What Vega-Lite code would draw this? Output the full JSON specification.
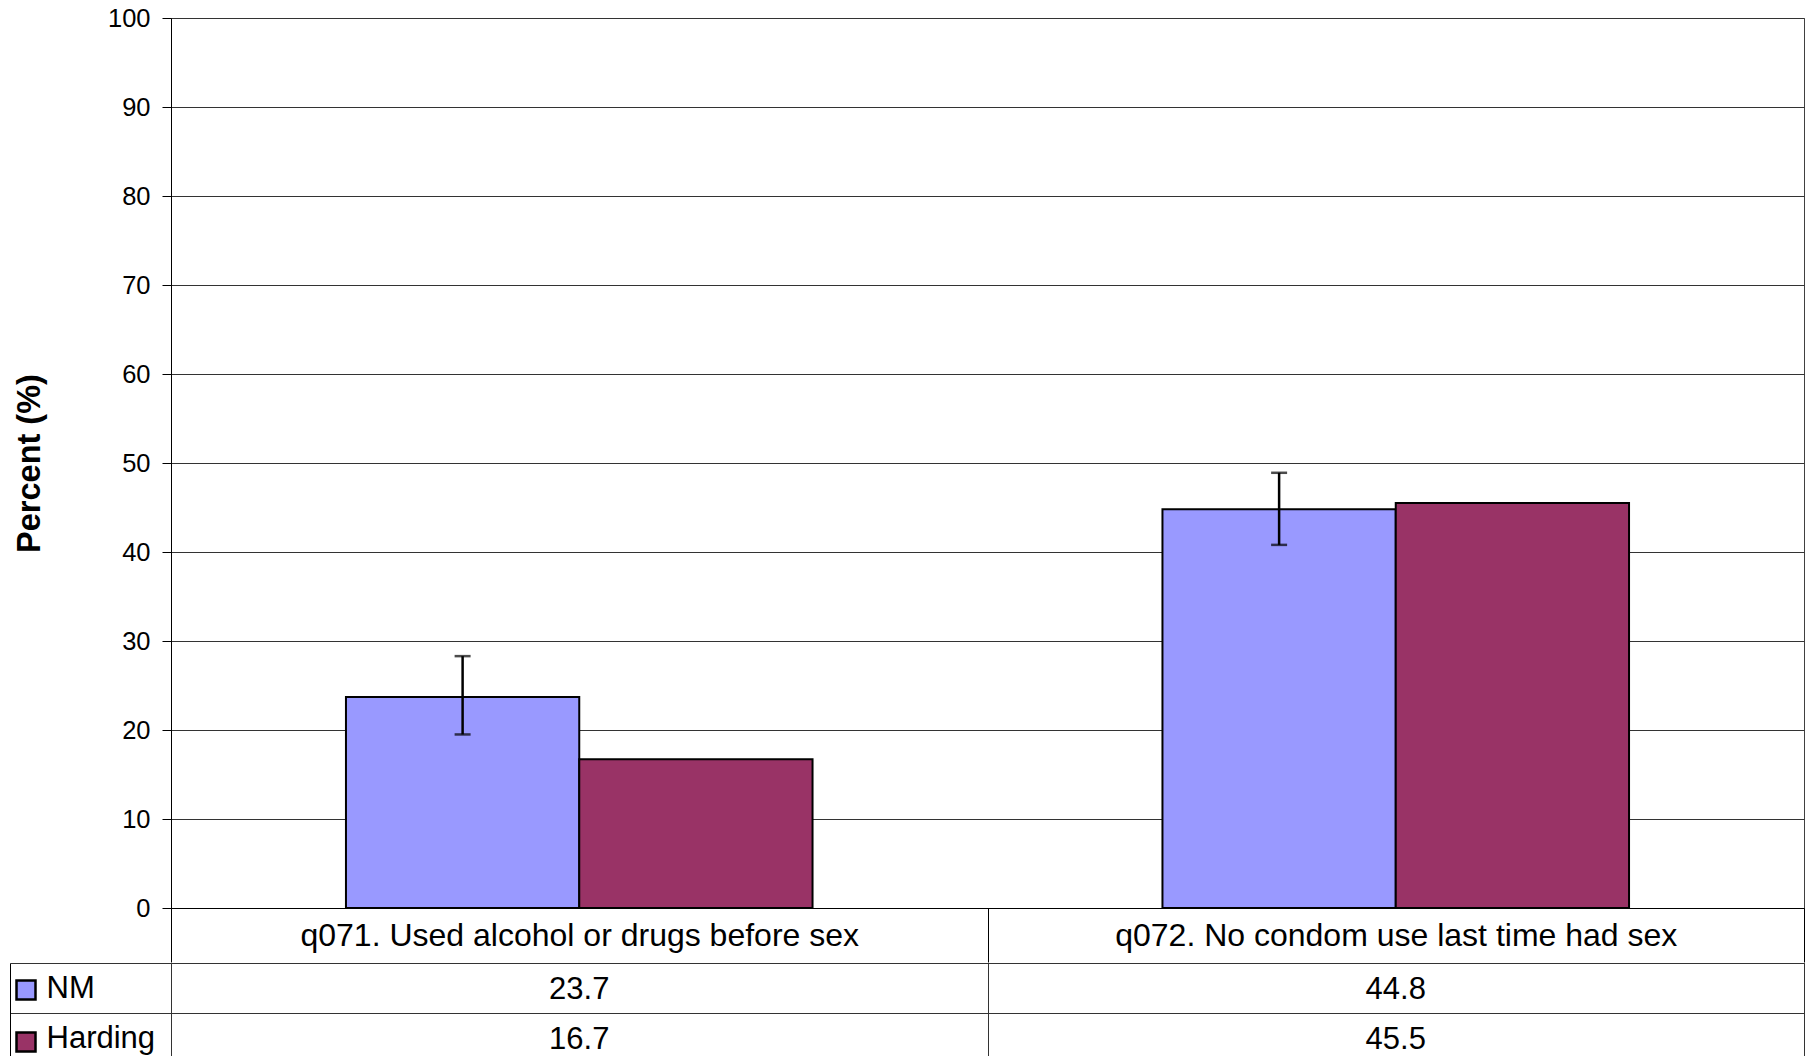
{
  "$schema": "https://vega.github.io/schema/vega-lite/v6.json",
  "padding": {"left": 9, "top": 5, "right": 5, "bottom": 0},
  "background": "#ffffff",
  "spacing": -19,
  "config": {
    "font": "Liberation Sans",
    "view": {"stroke": "#404040", "strokeWidth": 1}
  },
  "datasets": {
    "bars": [
      {"category": "q071. Used alcohol or drugs before sex", "series": "NM", "value": 23.7, "lo": 19.5, "hi": 28.3},
      {"category": "q071. Used alcohol or drugs before sex", "series": "Harding", "value": 16.7, "lo": null, "hi": null},
      {"category": "q072. No condom use last time had sex", "series": "NM", "value": 44.8, "lo": 40.8, "hi": 48.9},
      {"category": "q072. No condom use last time had sex", "series": "Harding", "value": 45.5, "lo": null, "hi": null}
    ]
  },
  "vconcat": [
    {
      "width": 1633,
      "height": 890,
      "data": {"name": "bars"},
      "encoding": {
        "x": {
          "field": "category", "type": "nominal", "sort": null,
          "scale": {"paddingInner": 0, "paddingOuter": 0},
          "axis": {
            "orient": "bottom", "title": null, "labelFontSize": 32, "labelColor": "#000",
            "labelAngle": 0, "labelBaseline": "middle", "labelPadding": -27, "labelLimit": 1000,
            "tickBand": "extent", "tickSize": 54, "tickColor": "#000", "domainColor": "#000", "grid": false
          }
        },
        "xOffset": {"field": "series", "type": "nominal", "sort": ["NM", "Harding"], "scale": {"paddingInner": 0, "paddingOuter": 0.75}}
      },
      "layer": [
        {
          "mark": {"type": "bar", "stroke": "#000", "strokeWidth": 2},
          "encoding": {
            "y": {
              "field": "value", "type": "quantitative", "scale": {"domain": [0, 100], "nice": false},
              "axis": {
                "values": [0, 10, 20, 30, 40, 50, 60, 70, 80, 90, 100],
                "title": "Percent (%)", "titleFontSize": 32.5, "titleFontWeight": "bold", "titleColor": "#000",
                "titlePadding": 61, "labelFontSize": 25.5, "labelColor": "#000", "labelPadding": 12,
                "tickSize": 9, "tickColor": "#000", "domainColor": "#000",
                "grid": true, "gridColor": "#333333"
              }
            },
            "color": {
              "field": "series", "type": "nominal",
              "scale": {"domain": ["NM", "Harding"], "range": ["#9999FF", "#993366"]},
              "legend": {
                "orient": "none", "legendX": -156, "legendY": 961, "title": null,
                "symbolType": "square", "symbolSize": 361, "symbolStrokeColor": "#000", "symbolStrokeWidth": 2.5,
                "symbolOpacity": 1, "labelExpr": "''", "rowPadding": 22, "padding": 0
              }
            }
          }
        },
        {
          "transform": [{"filter": "datum.lo != null"}],
          "mark": {"type": "rule", "color": "#000", "strokeWidth": 2.5},
          "encoding": {
            "y": {"field": "lo", "type": "quantitative"},
            "y2": {"field": "hi"}
          }
        },
        {
          "transform": [{"filter": "datum.lo != null"}],
          "mark": {"type": "tick", "color": "#000", "thickness": 2.5, "size": 16, "orient": "horizontal"},
          "encoding": {"y": {"field": "lo", "type": "quantitative"}}
        },
        {
          "transform": [{"filter": "datum.hi != null"}],
          "mark": {"type": "tick", "color": "#000", "thickness": 2.5, "size": 16, "orient": "horizontal"},
          "encoding": {"y": {"field": "hi", "type": "quantitative"}}
        }
      ]
    },
    {
      "width": 1633,
      "height": 100,
      "data": {"name": "bars"},
      "mark": {"type": "text", "fontSize": 31, "color": "#000", "dy": 2},
      "encoding": {
        "x": {
          "field": "category", "type": "nominal", "sort": null, "scale": {"padding": 0},
          "axis": {"orient": "bottom", "title": null, "labels": false, "ticks": false, "domain": false, "grid": true, "tickBand": "extent", "gridColor": "#333"}
        },
        "y": {
          "field": "series", "type": "nominal", "sort": ["NM", "Harding"], "scale": {"padding": 0},
          "axis": {
            "title": null, "offset": 161, "tickSize": -161, "tickBand": "extent", "tickColor": "#333",
            "domainColor": "#000", "grid": true, "gridColor": "#333",
            "labelFontSize": 31, "labelAlign": "left", "labelPadding": 125, "labelColor": "#000", "labelBaseline": "middle"
          }
        },
        "text": {"field": "value", "type": "quantitative", "format": ".1f"}
      }
    }
  ]
}
